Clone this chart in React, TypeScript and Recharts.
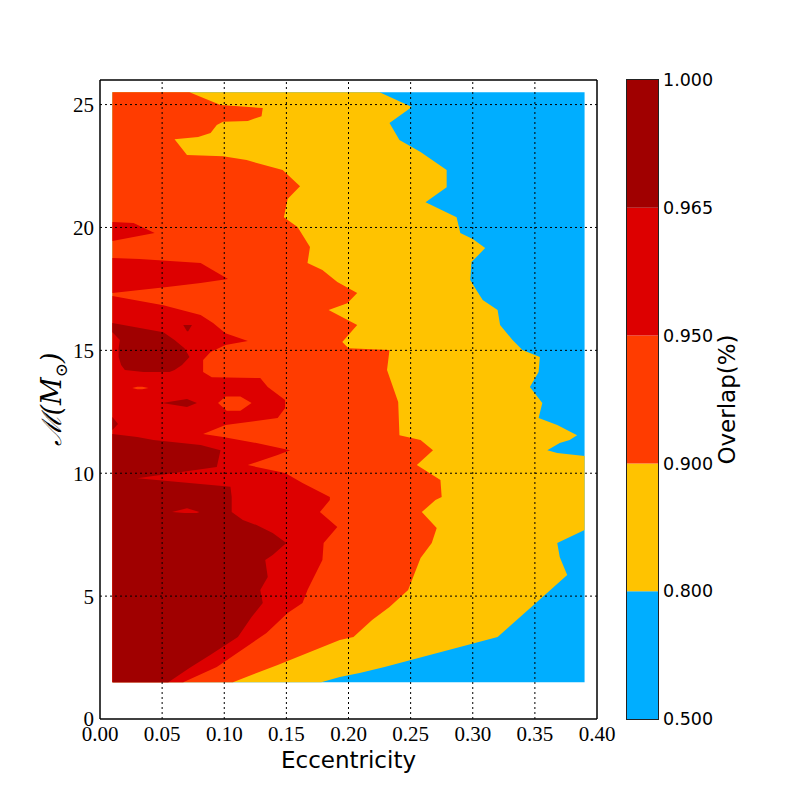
import React from 'react';
import { ComposedChart, Area, XAxis, YAxis, ReferenceLine, BarChart, Bar } from 'recharts';

// contour levels of the overlap, low -> high, and the fill of each band
const levels = [0.5, 0.8, 0.9, 0.95, 0.965, 1.0];
const levelLabels = ['0.500', '0.800', '0.900', '0.950', '0.965', '1.000'];
const bandColors = ['#00aeff', '#ffc300', '#ff3c00', '#dd0000', '#a00000'];

const eccTicks = [0, 0.05, 0.1, 0.15, 0.2, 0.25, 0.3, 0.35, 0.4];
const massTicks = [0, 5, 10, 15, 20, 25];
const eccDomain = [0, 0.4];
const massDomain = [0, 26];

// extent of the sampled grid
const eccRange = [0.01, 0.39];
const massRange = [1.5, 25.5];

// band edges as [chirp mass, eccentricity], top of grid to bottom
const yellowEdge = [
  [25.5, 0.225], [24.9, 0.251], [24.25, 0.233], [23.56, 0.241], [23.07, 0.258], [22.34, 0.279],
  [21.64, 0.279], [21.03, 0.262], [20.42, 0.287], [19.77, 0.29], [19.53, 0.3], [19.16, 0.31],
  [18.59, 0.299], [17.86, 0.298], [17.45, 0.303], [17.05, 0.308], [16.64, 0.32], [16.03, 0.322],
  [15.42, 0.332], [15.01, 0.34], [14.73, 0.354], [14.12, 0.353], [13.51, 0.346], [12.86, 0.356],
  [12.25, 0.353], [11.96, 0.368], [11.55, 0.384], [11.35, 0.378], [11.23, 0.37], [10.94, 0.36],
  [10.82, 0.368], [10.7, 0.39], [7.69, 0.39], [7.16, 0.368], [6.59, 0.37], [5.86, 0.376],
  [4.64, 0.349], [3.34, 0.32], [2.12, 0.229], [1.87, 0.209], [1.71, 0.193], [1.5, 0.178],
];

const orangeEdge = [
  [25.5, 0.072], [24.98, 0.097], [24.86, 0.131], [24.53, 0.13], [24.33, 0.119], [24.3, 0.099],
  [24.17, 0.094], [23.84, 0.089], [23.68, 0.079], [23.59, 0.06], [22.95, 0.07], [22.9, 0.099],
  [22.74, 0.118], [22.34, 0.147], [21.68, 0.161], [21.16, 0.151], [20.42, 0.148], [20.02, 0.159],
  [19.2, 0.169], [18.55, 0.167], [18.27, 0.179], [17.78, 0.191], [17.33, 0.207], [16.92, 0.199],
  [16.64, 0.184], [16.03, 0.207], [15.34, 0.195], [15.09, 0.2], [15.01, 0.233], [14.2, 0.231],
  [12.9, 0.24], [11.55, 0.241], [11.35, 0.258], [10.94, 0.268], [10.33, 0.255], [9.72, 0.274],
  [9.03, 0.275], [8.91, 0.27], [8.42, 0.259], [7.77, 0.271], [7.16, 0.267], [6.55, 0.258],
  [5.25, 0.248], [4.56, 0.233], [4.03, 0.219], [3.34, 0.204], [3.21, 0.193], [2.2, 0.143],
  [1.5, 0.107],
];

const redEdge = [
  [17.21, 0.01], [16.84, 0.051], [16.44, 0.081], [16.11, 0.091], [15.7, 0.101], [15.38, 0.119],
  [15.22, 0.101], [14.93, 0.089], [14.61, 0.083], [14.12, 0.083], [13.91, 0.09], [13.87, 0.129],
  [13.51, 0.135], [12.98, 0.149], [12.65, 0.149], [12.25, 0.143], [11.96, 0.101], [11.6, 0.083],
  [11.47, 0.099], [11.23, 0.126], [10.94, 0.153], [10.74, 0.143], [10.33, 0.119], [10.01, 0.149],
  [9.6, 0.163], [9.03, 0.185], [8.91, 0.185], [8.42, 0.177], [7.81, 0.191], [7.16, 0.18],
  [6.47, 0.179], [5.25, 0.167], [4.72, 0.163], [4.31, 0.151], [3.5, 0.134], [2.12, 0.094],
  [1.5, 0.067],
];

const darkRedEdge = [
  [11.6, 0.01], [11.47, 0.03], [11.35, 0.043], [11.15, 0.081], [10.94, 0.097], [10.25, 0.094],
  [9.8, 0.03], [9.7, 0.05], [9.45, 0.105], [9.03, 0.106], [8.42, 0.106], [8.1, 0.115],
  [7.89, 0.126], [7.57, 0.139], [7.16, 0.15], [6.67, 0.139], [6.47, 0.133], [5.78, 0.135],
  [5.25, 0.129], [4.72, 0.131], [4.15, 0.122], [3.34, 0.111], [2.61, 0.089], [2.08, 0.072],
  [1.5, 0.055],
];

// closed patches as [chirp mass, ecc low, ecc high]
const redPatchTop = [[20.22, 0.01, 0.01], [20.18, 0.01, 0.027], [19.77, 0.01, 0.044], [19.45, 0.01, 0.01]];
const redPatchUpper = [
  [18.76, 0.01, 0.01], [18.72, 0.01, 0.032], [18.55, 0.01, 0.081], [17.9, 0.01, 0.103],
  [17.74, 0.01, 0.081], [17.58, 0.01, 0.054], [17.33, 0.01, 0.01],
];
const orangePatchA = [[13.12, 0.101, 0.113], [12.86, 0.095, 0.122], [12.54, 0.102, 0.113]];
const orangePatchB = [[13.52, 0.03, 0.034], [13.47, 0.026, 0.039], [13.42, 0.03, 0.034]];
const darkPatchA = [
  [16.11, 0.01, 0.01], [15.74, 0.01, 0.051], [15.42, 0.016, 0.06], [15.09, 0.015, 0.068],
  [14.73, 0.015, 0.072], [14.4, 0.017, 0.066], [14.2, 0.02, 0.06], [14.12, 0.035, 0.056],
];
const darkPatchB = [[16.03, 0.067, 0.074], [15.78, 0.07, 0.071]];
const darkPatchC = [[13.02, 0.07, 0.07], [12.86, 0.05, 0.078], [12.69, 0.07, 0.07]];
const darkPatchD = [[12.29, 0.01, 0.01], [12.0, 0.01, 0.0145], [11.76, 0.01, 0.01]];
const redPatchLow = [[8.58, 0.07, 0.07], [8.42, 0.058, 0.08], [8.38, 0.068, 0.078]];

type Row = { m: number; r: [number, number] };
const fromEdge = (edge: number[][]): Row[] => edge.map(([m, e]) => ({ m, r: [eccRange[0], e] }));
const fromPatch = (patch: number[][]): Row[] => patch.map(([m, lo, hi]) => ({ m, r: [lo, hi] }));

const layers = [
  { id: 'blue', rows: fromEdge([[massRange[1], eccRange[1]], [massRange[0], eccRange[1]]]), color: bandColors[0] },
  { id: 'yellow', rows: fromEdge(yellowEdge), color: bandColors[1] },
  { id: 'orange', rows: fromEdge(orangeEdge), color: bandColors[2] },
  { id: 'redTop', rows: fromPatch(redPatchTop), color: bandColors[3] },
  { id: 'redUpper', rows: fromPatch(redPatchUpper), color: bandColors[3] },
  { id: 'red', rows: fromEdge(redEdge), color: bandColors[3] },
  { id: 'orangeA', rows: fromPatch(orangePatchA), color: bandColors[2] },
  { id: 'orangeB', rows: fromPatch(orangePatchB), color: bandColors[2] },
  { id: 'dark', rows: fromEdge(darkRedEdge), color: bandColors[4] },
  { id: 'darkA', rows: fromPatch(darkPatchA), color: bandColors[4] },
  { id: 'darkB', rows: fromPatch(darkPatchB), color: bandColors[4] },
  { id: 'darkC', rows: fromPatch(darkPatchC), color: bandColors[4] },
  { id: 'darkD', rows: fromPatch(darkPatchD), color: bandColors[4] },
  { id: 'redLow', rows: fromPatch(redPatchLow), color: bandColors[3] },
];

// colour bar: one row, equal-height segment per band
const barRow: Record<string, number | string> = { name: 'overlap' };
levels.slice(1).forEach((_, i) => { barRow[`s${i}`] = 1; });

const serifTick = { fill: '#000', fontSize: 21, fontFamily: 'Liberation Serif' };
const sansFont = 'DejaVu Sans';

const App: React.FC = () => {
  return (
    <div style={{ position: 'absolute', left: 0, top: 0, width: 800, height: 800, background: '#fff' }}>
      <ComposedChart
        layout="vertical"
        width={800}
        height={800}
        margin={{ top: 80, right: 203, bottom: 51, left: 40 }}
      >
        <XAxis
          type="number"
          domain={eccDomain}
          ticks={eccTicks}
          allowDataOverflow
          height={30}
          axisLine={false}
          tickLine={false}
          tickSize={0}
          tickMargin={7}
          tick={serifTick}
          tickFormatter={(v: number) => v.toFixed(2)}
          interval={0}
          label={{
            content: ({ viewBox }: any) => (
              <text x={viewBox.x + viewBox.width / 2} y={viewBox.y + 49} textAnchor="middle"
                fontFamily={sansFont} fontSize={23} fill="#000">Eccentricity</text>
            ),
          }}
        />
        <YAxis
          type="number"
          dataKey="m"
          domain={massDomain}
          ticks={massTicks}
          allowDataOverflow
          reversed
          width={60}
          axisLine={false}
          tickLine={false}
          tickSize={0}
          tickMargin={6}
          tick={serifTick}
          interval={0}
          label={{
            content: ({ viewBox }: any) => {
              const cx = viewBox.x + 21;
              const cy = viewBox.y + viewBox.height / 2;
              return (
                <text transform={`translate(${cx},${cy}) rotate(-90)`} textAnchor="middle"
                  fontFamily="DejaVu Serif" fontStyle="italic" fontSize={27} fill="#000">
                  ℳ(M<tspan dy={6} fontSize={17} fontStyle="normal">⊙</tspan><tspan dy={-6}>)</tspan>
                </text>
              );
            },
          }}
        />
        {layers.map((l) => (
          <Area
            key={l.id}
            data={l.rows}
            dataKey="r"
            type="linear"
            stroke="none"
            fill={l.color}
            fillOpacity={1}
            dot={false}
            activeDot={false}
            isAnimationActive={false}
          />
        ))}
        {eccTicks.slice(1, -1).map((e) => (
          <ReferenceLine key={`gx${e}`} x={e} stroke="#000" strokeWidth={1} strokeDasharray="2 3" />
        ))}
        {massTicks.slice(1).map((m) => (
          <ReferenceLine key={`gy${m}`} y={m} stroke="#000" strokeWidth={1} strokeDasharray="2 3" />
        ))}
        <ReferenceLine x={eccDomain[0]} stroke="#000" strokeWidth={1.5} />
        <ReferenceLine x={eccDomain[1]} stroke="#000" strokeWidth={1.5} />
        <ReferenceLine y={massDomain[0]} stroke="#000" strokeWidth={1.5} />
        <ReferenceLine y={massDomain[1]} stroke="#000" strokeWidth={1.5} />
      </ComposedChart>

      <div style={{ position: 'absolute', left: 627, top: 70 }}>
        <BarChart
          width={173}
          height={659}
          data={[barRow]}
          margin={{ top: 10, right: 0, bottom: 10, left: 0 }}
          barCategoryGap={0}
        >
          <XAxis dataKey="name" hide />
          <YAxis
            orientation="right"
            type="number"
            domain={[0, levels.length - 1]}
            ticks={levels.map((_, i) => i)}
            allowDataOverflow
            width={142}
            axisLine={false}
            tickLine={false}
            tickSize={0}
            tickMargin={5}
            interval={0}
            tick={{ fill: '#000', fontSize: 17.5, fontFamily: sansFont }}
            tickFormatter={(v: number) => levelLabels[v]}
            label={{
              content: ({ viewBox }: any) => {
                const cx = viewBox.x + 77;
                const cy = viewBox.y + viewBox.height / 2;
                return (
                  <text transform={`translate(${cx},${cy}) rotate(-90)`} textAnchor="middle"
                    fontFamily={sansFont} fontSize={23} fill="#000">Overlap(%)</text>
                );
              },
            }}
          />
          {levels.slice(1).map((_, i) => (
            <Bar key={i} dataKey={`s${i}`} stackId="cb" fill={bandColors[i]} isAnimationActive={false} />
          ))}
        </BarChart>
        <div style={{ position: 'absolute', left: -1, top: 9, width: 33, height: 641, border: '1px solid #222', boxSizing: 'border-box' }} />
      </div>
    </div>
  );
};

export default App;
